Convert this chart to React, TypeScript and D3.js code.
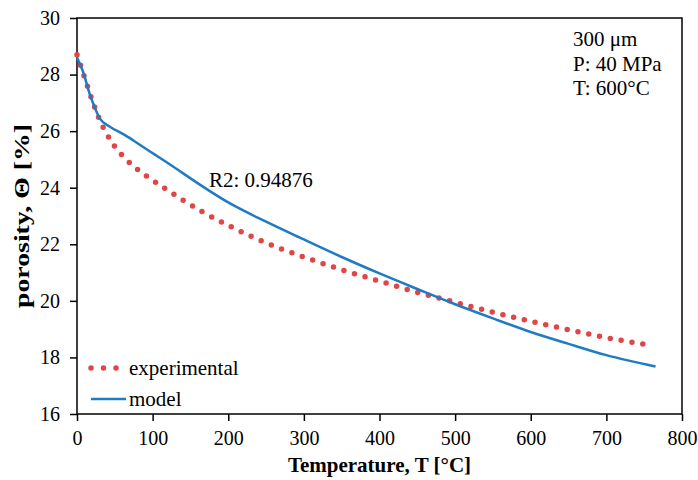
import { useEffect, useRef } from 'react'
import * as d3 from 'd3'

// experimental porosity (dotted)
const expT = [0, 10, 20, 30, 45, 65, 90, 115, 165, 200, 250, 300, 350, 400, 450, 500, 550, 600, 650, 700, 760]
const expPorosity = [28.7, 27.9, 27.1, 26.4, 25.65, 25.0, 24.45, 24.0, 23.16, 22.67, 22.05, 21.55, 21.1, 20.7, 20.3, 19.95, 19.6, 19.28, 18.98, 18.7, 18.42]

// model porosity (solid)
const modelT = [0, 8, 17, 24, 30, 44, 64, 83, 103, 123, 163, 200, 250, 300, 350, 400, 450, 500, 550, 600, 650, 700, 765]
const modelPorosity = [28.6, 28.1, 27.3, 26.8, 26.45, 26.15, 25.85, 25.52, 25.17, 24.82, 24.1, 23.48, 22.8, 22.17, 21.55, 20.97, 20.42, 19.88, 19.38, 18.9, 18.48, 18.08, 17.68]

const xTicks = [0, 100, 200, 300, 400, 500, 600, 700, 800]
const yTicks = [16, 18, 20, 22, 24, 26, 28, 30]
const notes = ['300 μm', 'P: 40 MPa', 'T: 600°C']

const RED = '#e04646'
const BLUE = '#1f7bc4'
const FONT = '"Liberation Serif", "Times New Roman", serif'

export default function App() {
  const ref = useRef<SVGSVGElement>(null)

  useEffect(() => {
    const width = 698
    const height = 480
    const margin = { top: 18, right: 16, bottom: 66, left: 77 }
    const w = width - margin.left - margin.right
    const h = height - margin.top - margin.bottom
    const svg = d3.select(ref.current)
    svg.selectAll('*').remove()
    svg.attr('viewBox', `0 0 ${width} ${height}`)
    svg.append('rect').attr('width', width).attr('height', height).attr('fill', '#fff')
    const root = svg.append('g').attr('transform', `translate(${margin.left},${margin.top})`)

    const x = d3.scaleLinear().domain([0, 800]).range([0, w])
    const y = d3.scaleLinear().domain([16, 30]).range([h, 0])

    // frame
    root.append('rect').attr('width', w).attr('height', h)
      .attr('fill', 'none').attr('stroke', '#000').attr('stroke-width', 1.5)

    const xAxis = root.append('g').attr('transform', `translate(0,${h})`)
      .call(d3.axisBottom(x).tickValues(xTicks).tickSize(7).tickPadding(10).tickFormat(d3.format('d')))
    const yAxis = root.append('g')
      .call(d3.axisLeft(y).tickValues(yTicks).tickSize(7).tickPadding(10).tickFormat(d3.format('d')))
    for (const ax of [xAxis, yAxis]) {
      ax.attr('font-family', null).attr('font-size', null)
      ax.select('.domain').remove()
      ax.selectAll('line').attr('stroke', '#000').attr('stroke-width', 1.5)
      ax.selectAll('text').attr('fill', '#000').style('font-family', FONT).style('font-size', '20px')
    }

    const line = d3.line<[number, number]>().x(d => x(d[0])).y(d => y(d[1])).curve(d3.curveMonotoneX)
    const expData = expT.map((t, i) => [t, expPorosity[i]] as [number, number])
    const modelData = modelT.map((t, i) => [t, modelPorosity[i]] as [number, number])

    root.append('path').datum(expData).attr('d', line)
      .attr('fill', 'none').attr('stroke', RED).attr('stroke-width', 5.5)
      .attr('stroke-linecap', 'round').attr('stroke-dasharray', '0 11')
    root.append('path').datum(modelData).attr('d', line)
      .attr('fill', 'none').attr('stroke', BLUE).attr('stroke-width', 2.5)

    // axis titles
    svg.append('text').attr('x', margin.left + w / 2).attr('y', 472).attr('text-anchor', 'middle')
      .style('font-family', FONT).style('font-size', '21px').style('font-weight', 'bold')
      .text('Temperature, T [°C]')
    svg.append('text').attr('transform', `translate(29,${margin.top + h / 2}) rotate(-90)`)
      .attr('text-anchor', 'middle')
      .attr('textLength', 184).attr('lengthAdjust', 'spacingAndGlyphs')
      .style('font-family', FONT).style('font-size', '22px').style('font-weight', 'bold')
      .text('porosity, Θ [%]')

    // annotations
    const ann = svg.append('g').style('font-family', FONT).style('font-size', '21px')
    ann.selectAll('text.note').data(notes).enter().append('text')
      .attr('class', 'note').attr('x', 573).attr('y', (d, i) => 46 + i * 24.5).text(d => d)
    ann.append('text').attr('x', 209).attr('y', 187).text('R2: 0.94876')

    // legend
    const legend = svg.append('g').style('font-family', FONT).style('font-size', '21px')
    legend.append('path').attr('d', 'M91,368 L117,368')
      .attr('stroke', RED).attr('stroke-width', 5.5).attr('stroke-linecap', 'round')
      .attr('stroke-dasharray', '0 12.5')
    legend.append('text').attr('x', 129).attr('y', 375).text('experimental')
    legend.append('path').attr('d', 'M91,399 L126,399').attr('stroke', BLUE).attr('stroke-width', 2.5)
    legend.append('text').attr('x', 129).attr('y', 406).text('model')
  }, [])

  return (
    <div style={{ position: 'absolute', left: 0, top: 0 }}>
      <svg ref={ref} width={698} height={480} style={{ display: 'block' }} />
    </div>
  )
}
